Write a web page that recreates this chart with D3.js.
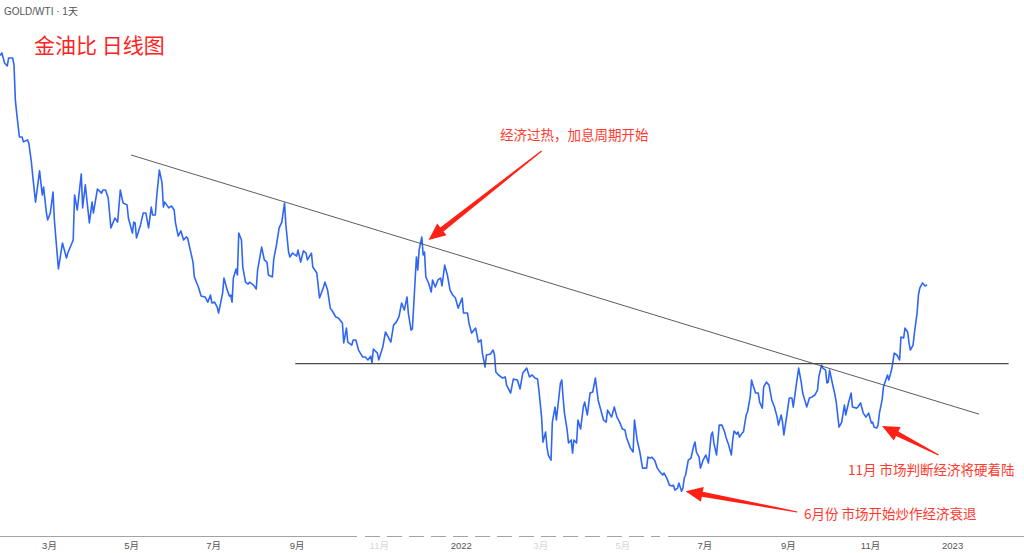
<!DOCTYPE html>
<html><head><meta charset="utf-8">
<script src="https://cdn.jsdelivr.net/npm/d3@7"></script>
<style>html,body{margin:0;padding:0;background:#fff;overflow:hidden}svg{display:block}</style>
</head><body>
<svg id="chart" width="1024" height="553"></svg>
<script>
// ---- DATA ----
const dates = [
"2021-01-24","2021-01-25","2021-01-27","2021-01-29","2021-01-30","2021-02-02","2021-02-03","2021-02-04","2021-02-05","2021-02-07",
"2021-02-09","2021-02-10","2021-02-13","2021-02-14","2021-02-16","2021-02-17","2021-02-19","2021-02-22","2021-02-24","2021-02-25",
"2021-02-27","2021-02-28","2021-03-02","2021-03-04","2021-03-05","2021-03-08","2021-03-11","2021-03-14","2021-03-15","2021-03-19",
"2021-03-20","2021-03-22","2021-03-25","2021-03-26","2021-03-28","2021-03-29","2021-03-31","2021-04-02","2021-04-03","2021-04-06",
"2021-04-09","2021-04-10","2021-04-12","2021-04-14","2021-04-16","2021-04-19","2021-04-21","2021-04-23","2021-04-25","2021-04-28",
"2021-04-29","2021-05-02","2021-05-03","2021-05-04","2021-05-05","2021-05-08","2021-05-10","2021-05-12","2021-05-14","2021-05-16",
"2021-05-17","2021-05-19","2021-05-20","2021-05-22","2021-05-24","2021-05-25","2021-05-26","2021-05-29","2021-05-31","2021-06-02",
"2021-06-03","2021-06-05","2021-06-07","2021-06-09","2021-06-11","2021-06-12","2021-06-14","2021-06-16","2021-06-17","2021-06-20",
"2021-06-22","2021-06-25","2021-06-27","2021-06-29","2021-06-30","2021-07-02","2021-07-04","2021-07-05","2021-07-08","2021-07-09",
"2021-07-11","2021-07-13","2021-07-14","2021-07-15","2021-07-16","2021-07-18","2021-07-19","2021-07-20","2021-07-22","2021-07-23",
"2021-07-25","2021-07-27","2021-07-28","2021-07-31","2021-08-02","2021-08-03","2021-08-06","2021-08-08","2021-08-10","2021-08-11",
"2021-08-14","2021-08-15","2021-08-17","2021-08-19","2021-08-21","2021-08-23","2021-08-24","2021-08-26","2021-08-27","2021-08-29",
"2021-09-01","2021-09-02","2021-09-04","2021-09-06","2021-09-08","2021-09-09","2021-09-12","2021-09-13","2021-09-16","2021-09-18",
"2021-09-21","2021-09-22","2021-09-24","2021-09-26","2021-09-28","2021-09-30","2021-10-02","2021-10-05","2021-10-06","2021-10-08",
"2021-10-09","2021-10-12","2021-10-13","2021-10-15","2021-10-17","2021-10-20","2021-10-22","2021-10-24","2021-10-26","2021-10-27",
"2021-10-28","2021-10-31","2021-11-01","2021-11-04","2021-11-06","2021-11-08","2021-11-10","2021-11-12","2021-11-14","2021-11-16",
"2021-11-18","2021-11-20","2021-11-22","2021-11-23","2021-11-25","2021-11-26","2021-11-29","2021-11-30","2021-12-01","2021-12-03",
"2021-12-04","2021-12-05","2021-12-06","2021-12-08","2021-12-10","2021-12-11","2021-12-13","2021-12-15","2021-12-17","2021-12-18",
"2021-12-20","2021-12-22","2021-12-24","2021-12-26","2021-12-28","2021-12-30","2022-01-02","2022-01-03","2022-01-06","2022-01-07",
"2022-01-09","2022-01-12","2022-01-14","2022-01-16","2022-01-17","2022-01-19","2022-01-20","2022-01-23","2022-01-25","2022-01-26",
"2022-01-27","2022-01-29","2022-02-01","2022-02-03","2022-02-04","2022-02-07","2022-02-09","2022-02-12","2022-02-14","2022-02-16",
"2022-02-19","2022-02-21","2022-02-23","2022-02-25","2022-02-27","2022-02-28","2022-03-02","2022-03-03","2022-03-05","2022-03-06",
"2022-03-07","2022-03-09","2022-03-10","2022-03-12","2022-03-13","2022-03-16","2022-03-17","2022-03-18","2022-03-19","2022-03-21",
"2022-03-22","2022-03-24","2022-03-25","2022-03-26","2022-03-28","2022-03-29","2022-03-31","2022-04-02","2022-04-03","2022-04-05",
"2022-04-07","2022-04-09","2022-04-11","2022-04-13","2022-04-15","2022-04-17","2022-04-19","2022-04-20","2022-04-23","2022-04-25",
"2022-04-27","2022-04-29","2022-05-01","2022-05-03","2022-05-04","2022-05-07","2022-05-09","2022-05-10","2022-05-12","2022-05-14",
"2022-05-16","2022-05-19","2022-05-20","2022-05-22","2022-05-23","2022-05-25","2022-05-27","2022-05-29","2022-05-31","2022-06-01",
"2022-06-03","2022-06-05","2022-06-07","2022-06-08","2022-06-09","2022-06-11","2022-06-12","2022-06-14","2022-06-15","2022-06-16",
"2022-06-17","2022-06-19","2022-06-21","2022-06-23","2022-06-24","2022-06-25","2022-06-27","2022-06-28","2022-06-30","2022-07-02",
"2022-07-04","2022-07-06","2022-07-07","2022-07-08","2022-07-10","2022-07-12","2022-07-14","2022-07-16","2022-07-17","2022-07-19",
"2022-07-21","2022-07-22","2022-07-23","2022-07-25","2022-07-26","2022-07-27","2022-07-29","2022-07-30","2022-08-01","2022-08-02",
"2022-08-04","2022-08-05","2022-08-06","2022-08-08","2022-08-10","2022-08-11","2022-08-13","2022-08-14","2022-08-16","2022-08-18",
"2022-08-20","2022-08-22","2022-08-24","2022-08-25","2022-08-27","2022-08-28","2022-08-29","2022-08-31","2022-09-02","2022-09-04",
"2022-09-05","2022-09-07","2022-09-09","2022-09-11","2022-09-12","2022-09-14","2022-09-15","2022-09-17","2022-09-19","2022-09-21",
"2022-09-23","2022-09-24","2022-09-26","2022-09-27","2022-09-29","2022-09-30","2022-10-01","2022-10-02","2022-10-04","2022-10-06",
"2022-10-07","2022-10-09","2022-10-11","2022-10-13","2022-10-14","2022-10-16","2022-10-18","2022-10-19","2022-10-22","2022-10-23",
"2022-10-25","2022-10-27","2022-10-29","2022-10-31","2022-11-02","2022-11-03","2022-11-04","2022-11-06","2022-11-07","2022-11-08",
"2022-11-10","2022-11-11","2022-11-12","2022-11-14","2022-11-15","2022-11-17","2022-11-18","2022-11-19","2022-11-21","2022-11-23",
"2022-11-24","2022-11-26","2022-11-27","2022-11-29","2022-11-30","2022-12-01","2022-12-03","2022-12-04","2022-12-06","2022-12-07",
"2022-12-08","2022-12-10","2022-12-12","2022-12-13"
];
const ratio = [
35.50,35.60,35.13,34.99,35.36,35.36,35.04,33.41,32.80,31.69,
31.69,31.46,31.55,31.41,30.48,29.83,28.66,30.11,28.99,29.36,
28.20,27.83,28.15,29.13,27.83,25.55,26.76,26.06,26.29,26.90,
28.99,28.29,29.97,28.39,29.46,28.85,27.69,28.66,28.15,29.27,
29.08,29.22,29.22,28.85,27.46,27.92,27.73,29.22,28.62,28.53,
27.92,27.22,27.73,27.69,26.99,27.60,28.15,28.15,27.46,28.43,
28.06,28.06,28.90,30.15,29.55,28.43,28.66,28.39,28.48,28.29,
27.69,27.08,27.32,26.90,27.04,26.99,26.43,25.87,25.18,24.71,
24.29,24.25,24.01,24.34,23.97,24.01,23.78,23.50,24.43,25.13,
24.66,24.29,24.34,24.01,25.13,25.55,25.27,27.22,26.90,25.64,
24.94,24.85,24.94,24.80,24.62,25.50,26.57,25.97,25.87,25.27,
25.18,26.01,26.66,27.46,27.73,28.62,27.60,26.34,26.11,26.29,
26.15,26.43,25.87,26.39,26.29,25.97,26.29,25.64,25.36,24.20,
24.71,24.94,24.57,23.73,23.55,23.32,23.27,23.04,22.11,22.80,
22.15,22.01,22.25,22.25,21.78,21.46,21.46,21.32,21.50,21.18,
21.83,21.64,21.32,21.92,22.62,22.39,22.15,22.94,23.08,23.32,
23.97,23.64,24.25,23.50,22.71,22.76,26.11,25.50,26.43,27.04,
26.20,26.34,25.18,24.90,24.48,25.04,24.71,25.04,25.13,24.76,
25.73,25.27,24.57,24.34,24.20,23.73,24.20,23.50,23.50,23.04,
22.57,22.80,22.15,22.25,21.64,20.99,21.55,21.60,21.78,21.55,
20.76,20.62,20.48,20.53,20.15,19.78,20.43,20.39,19.97,20.71,
20.94,20.53,20.62,20.48,20.43,19.92,18.66,17.50,17.97,17.27,
16.90,16.66,18.43,19.13,18.53,20.25,20.39,19.55,18.85,18.06,
17.46,17.60,16.99,17.60,17.46,18.53,18.11,19.13,19.36,18.76,
19.78,19.83,20.48,19.46,18.99,18.53,18.43,18.99,18.66,19.13,
18.66,18.43,18.11,18.06,17.73,17.22,17.04,18.53,17.60,17.04,
16.29,16.29,16.80,16.76,16.80,16.66,16.29,16.11,15.97,16.06,
15.83,15.50,15.46,15.50,15.27,15.36,15.60,15.22,15.36,15.83,
15.97,16.66,16.76,17.32,17.50,17.04,16.80,16.29,16.66,16.90,
16.53,17.83,17.97,17.46,16.90,18.29,18.29,17.97,17.73,17.36,
16.90,17.60,18.01,17.87,17.97,17.73,17.92,17.97,18.76,18.90,
19.60,20.39,20.15,19.78,19.78,19.36,19.08,20.06,20.29,20.15,
19.46,19.13,18.66,18.29,18.76,18.43,17.83,18.66,19.55,19.55,
19.13,20.06,20.94,20.25,19.78,19.36,19.13,19.55,19.60,19.69,
19.92,20.53,21.08,20.94,20.85,20.25,20.29,20.85,20.25,19.69,
19.32,18.20,18.43,19.22,18.76,19.32,19.78,19.13,19.08,19.13,
19.32,18.85,18.66,18.85,18.39,18.43,18.20,18.15,18.29,18.85,
19.46,20.06,20.25,20.62,20.39,20.85,21.22,21.64,21.55,21.32,
22.39,22.34,22.80,22.62,22.11,21.78,22.01,22.57,23.50,24.34,
24.66,24.90,24.76,24.80
];
const tickDates  = ["2021-03-01","2021-05-01","2021-07-01","2021-09-01","2021-11-01","2022-01-01","2022-03-01","2022-05-01","2022-07-01","2022-09-01","2022-11-01","2023-01-01"];
const tickLabels = ["3月","5月","7月","9月","11月","2022","3月","5月","7月","9月","11月","2023"];
const fadedTicks = ["2021-11-01","2022-03-01","2022-05-01"];
// drawn reference lines
const trendDates  = ["2021-05-01","2023-01-21"];
const trendValues = [30.85, 18.80];
const levelDates  = ["2021-08-31","2023-02-12"];
const levelValue  = 21.15;
// annotation arrows (tail -> tip)
const arrowTailDates  = ["2022-03-02","2022-09-08","2022-12-22"];
const arrowTailValues = [31.04, 14.25, 16.90];
const arrowTipDates   = ["2021-12-08","2022-06-17","2022-11-10"];
const arrowTipValues  = [26.90, 15.22, 18.25];
const noteTexts = ["经济过热，加息周期开始","6月份 市场开始炒作经济衰退","11月 市场判断经济将硬着陆"];

// ---- CHART ----
const W = 1024, H = 553;
const svg = d3.select("#chart");
const parse = d3.utcParse("%Y-%m-%d");
const x = d3.scaleUtc().domain([parse("2021-01-01"), parse("2023-01-01")]).range([-30.42, 952.09]);
const y = d3.scaleLinear().domain([15.18, 35.5]).range([492, 55]);

const n = Math.min(dates.length, ratio.length);
const series = d3.range(n).map(i => ({date: parse(dates[i]), v: ratio[i]}));

const cjk = "'Noto Sans CJK SC','Noto Sans',sans-serif";

// x axis
const axisY = 536;
const axis = d3.axisBottom(x)
  .tickValues(tickDates.map(parse))
  .tickFormat((d, i) => tickLabels[i])
  .tickSize(0).tickPadding(6);
const gAxis = svg.append("g").attr("transform", `translate(0,${axisY})`).call(axis);
gAxis.select(".domain").remove();
gAxis.selectAll("text")
  .attr("font-family", "'Liberation Sans','Noto Sans CJK SC',sans-serif")
  .attr("font-size", 9.5)
  .attr("fill", (d) => fadedTicks.includes(d3.utcFormat("%Y-%m-%d")(d)) ? "#d6d6d6" : "#555");
// axis base line (partly broken, as in the picture)
const axisLine = svg.append("g").attr("stroke", "#a0a3ab").attr("stroke-width", 1);
axisLine.append("line").attr("x1", 0).attr("x2", 357).attr("y1", axisY + 0.5).attr("y2", axisY + 0.5);
axisLine.append("line").attr("x1", 365).attr("x2", 660).attr("y1", axisY + 0.5).attr("y2", axisY + 0.5)
  .attr("stroke-dasharray", "15,7");
axisLine.append("line").attr("x1", 668).attr("x2", W).attr("y1", axisY + 0.5).attr("y2", axisY + 0.5);

// main series
const line = d3.line().x(d => x(d.date)).y(d => y(d.v));
svg.append("path").datum(series)
  .attr("fill", "none").attr("stroke", "#2f66f5").attr("stroke-width", 1.6)
  .attr("stroke-linejoin", "round").attr("stroke-linecap", "round")
  .attr("d", line);

// reference lines
svg.append("line")
  .attr("x1", x(parse(trendDates[0]))).attr("y1", y(trendValues[0]))
  .attr("x2", x(parse(trendDates[1]))).attr("y2", y(trendValues[1]))
  .attr("stroke", "#4a4a4a").attr("stroke-width", 0.9);
svg.append("line")
  .attr("x1", x(parse(levelDates[0]))).attr("y1", y(levelValue))
  .attr("x2", x(parse(levelDates[1]))).attr("y2", y(levelValue))
  .attr("stroke", "#4a4a4a").attr("stroke-width", 1.1);

// arrows
function arrowPath(tx, ty, hx, hy) {
  const dx = hx - tx, dy = hy - ty, L = Math.hypot(dx, dy);
  const ux = dx / L, uy = dy / L, nx = -uy, ny = ux;
  const HL = 17, HW = 7.5, tw = 0.6, nw = 2.6;
  const bx = hx - ux * HL, by = hy - uy * HL;
  const p = [
    [tx + nx * tw, ty + ny * tw], [bx + nx * nw, by + ny * nw], [bx + nx * HW, by + ny * HW],
    [hx, hy],
    [bx - nx * HW, by - ny * HW], [bx - nx * nw, by - ny * nw], [tx - nx * tw, ty - ny * tw]
  ];
  return "M" + p.map(q => q.join(",")).join("L") + "Z";
}
arrowTipDates.forEach((d, i) => {
  svg.append("path")
    .attr("d", arrowPath(x(parse(arrowTailDates[i])), y(arrowTailValues[i]), x(parse(d)), y(arrowTipValues[i])))
    .attr("fill", "#ff2016");
});

// texts
svg.append("text").attr("x", 4).attr("y", 15)
  .attr("font-family", "'Liberation Sans','Noto Sans CJK SC',sans-serif").attr("font-size", 10).attr("fill", "#555")
  .text("GOLD/WTI · 1天");
svg.append("text").attr("x", 34).attr("y", 53)
  .attr("font-family", cjk).attr("font-size", 21).attr("fill", "#ff2222")
  .text("金油比 日线图");
const notePos = [[500, 140], [804, 519], [848, 475]];
noteTexts.forEach((t, i) => {
  svg.append("text").attr("x", notePos[i][0]).attr("y", notePos[i][1])
    .attr("font-family", cjk).attr("font-size", 13.5).attr("fill", "#ff3a2e")
    .text(t);
});
</script>
</body></html>
